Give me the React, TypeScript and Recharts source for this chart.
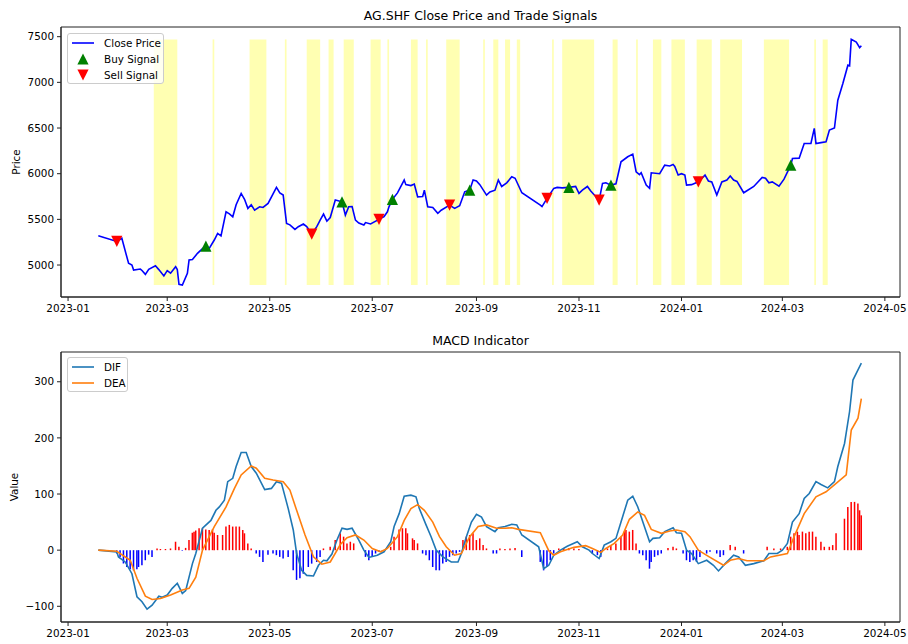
import React from 'react'
import { ComposedChart, Line, Scatter, Bar, Cell, XAxis, YAxis, ReferenceArea } from 'recharts'

const FONT = '"DejaVu Sans", sans-serif'
const AXIS = '#222'

// x tick labels (month starts)
const monthLabels = ['2023-01', '2023-03', '2023-05', '2023-07', '2023-09', '2023-11', '2024-01', '2024-03', '2024-05']

const priceDates = [
  '2023-01-19','2023-01-30','2023-02-02','2023-02-06','2023-02-08','2023-02-09','2023-02-13','2023-02-14','2023-02-16','2023-02-18',
  '2023-02-22','2023-02-24','2023-02-27','2023-03-01','2023-03-03','2023-03-06','2023-03-07','2023-03-08','2023-03-10','2023-03-13',
  '2023-03-14','2023-03-16','2023-03-19','2023-03-22','2023-03-24','2023-03-26','2023-03-29','2023-03-31','2023-04-02','2023-04-05',
  '2023-04-07','2023-04-09','2023-04-11','2023-04-14','2023-04-16','2023-04-18','2023-04-20','2023-04-22','2023-04-25','2023-04-27',
  '2023-04-30','2023-05-05','2023-05-07','2023-05-09','2023-05-11','2023-05-13','2023-05-16','2023-05-18','2023-05-21','2023-05-23',
  '2023-05-26','2023-05-29','2023-05-31','2023-06-02','2023-06-04','2023-06-06','2023-06-09','2023-06-13','2023-06-15','2023-06-17',
  '2023-06-19','2023-06-21','2023-06-23','2023-06-26','2023-06-27','2023-06-30','2023-07-05','2023-07-08','2023-07-10','2023-07-11',
  '2023-07-13','2023-07-16','2023-07-20','2023-07-21','2023-07-24','2023-07-26','2023-07-28','2023-07-31','2023-08-01','2023-08-03',
  '2023-08-06','2023-08-09','2023-08-11','2023-08-16','2023-08-19','2023-08-22','2023-08-25','2023-08-28','2023-08-30','2023-09-01',
  '2023-09-03','2023-09-07','2023-09-09','2023-09-12','2023-09-14','2023-09-16','2023-09-19','2023-09-22','2023-09-24','2023-09-28',
  '2023-10-09','2023-10-10','2023-10-13','2023-10-17','2023-10-19','2023-10-22','2023-10-26','2023-10-30','2023-11-01','2023-11-03',
  '2023-11-06','2023-11-08','2023-11-10','2023-11-13','2023-11-15','2023-11-17','2023-11-20','2023-11-23','2023-11-26','2023-11-30',
  '2023-12-03','2023-12-05','2023-12-07','2023-12-08','2023-12-11','2023-12-13','2023-12-14','2023-12-19','2023-12-22','2023-12-25',
  '2023-12-27','2023-12-28','2023-12-30','2024-01-01','2024-01-03','2024-01-04','2024-01-07','2024-01-11','2024-01-15','2024-01-17',
  '2024-01-19','2024-01-22','2024-01-25','2024-01-28','2024-01-30','2024-02-01','2024-02-03','2024-02-07','2024-02-13','2024-02-18',
  '2024-02-20','2024-02-22','2024-02-24','2024-02-28','2024-03-02','2024-03-06','2024-03-07','2024-03-11','2024-03-14','2024-03-18',
  '2024-03-20','2024-03-21','2024-03-24','2024-03-27','2024-03-29','2024-04-01','2024-04-03','2024-04-06','2024-04-09','2024-04-10',
  '2024-04-11','2024-04-14','2024-04-16','2024-04-17',
]
const closePrices = [
  5320, 5258, 5292, 5019, 5000, 4945, 4956, 4940, 4898, 4953,
  4992, 4950, 4880, 4938, 4910, 4982, 4950, 4789, 4781, 4909,
  5055, 5060, 5128, 5180, 5208, 5183, 5274, 5347, 5320, 5583,
  5560, 5528, 5660, 5784, 5720, 5620, 5660, 5600, 5638, 5630,
  5675, 5850, 5790, 5766, 5456, 5440, 5390, 5420, 5449, 5420,
  5339, 5420, 5492, 5558, 5480, 5520, 5711, 5692, 5547, 5638,
  5640, 5492, 5460, 5438, 5465, 5450, 5500, 5530, 5583, 5640,
  5719, 5790, 5930, 5880, 5870, 5886, 5747, 5750, 5820, 5638,
  5630, 5566, 5600, 5656, 5620, 5650, 5802, 5820, 5930, 5920,
  5880, 5766, 5800, 5820, 5930, 5860, 5900, 5966, 5950, 5791,
  5656, 5640, 5730, 5839, 5850, 5845, 5850, 5860, 5784, 5820,
  5860, 5810, 5770, 5711, 5894, 5900, 5875, 5890, 6130, 6185,
  6214, 6021, 5990, 6010, 5875, 5839, 6010, 6000, 6094, 6085,
  6100, 6080, 5985, 6000, 5985, 5875, 5880, 5911, 5985, 5920,
  5910, 5766, 5910, 5930, 5974, 5930, 5915, 5791, 5860, 5959,
  5950, 5900, 5910, 5864, 5940, 6094, 6167, 6170, 6331, 6331,
  6496, 6331, 6340, 6349, 6477, 6500, 6805, 6988, 7188, 7180,
  7470, 7440, 7380, 7400,
]

const buyDates = ['2023-03-24', '2023-06-13', '2023-07-13', '2023-08-28', '2023-10-26', '2023-11-20', '2024-03-06']
const buyPrices = [5208, 5692, 5719, 5820, 5850, 5875, 6094]
const sellDates = ['2023-01-30', '2023-05-26', '2023-07-05', '2023-08-16', '2023-10-13', '2023-11-13', '2024-01-11']
const sellPrices = [5258, 5339, 5500, 5656, 5730, 5711, 5911]

// shaded signal periods
const spanStarts = [
  '2023-02-21','2023-03-28','2023-04-19','2023-05-10','2023-05-23','2023-06-05','2023-06-14','2023-06-30','2023-07-10',
  '2023-07-24','2023-08-02','2023-08-14','2023-09-05','2023-09-11','2023-09-18','2023-09-25','2023-10-16','2023-10-22',
  '2023-11-21','2023-12-05','2023-12-15','2023-12-26','2024-01-10','2024-01-24','2024-02-19','2024-03-20','2024-03-25',
]
const spanEnds = [
  '2023-03-07','2023-03-29','2023-04-29','2023-05-11','2023-05-31','2023-06-08','2023-06-20','2023-07-06','2023-07-11',
  '2023-07-28','2023-08-03','2023-08-22','2023-09-06','2023-09-14','2023-09-21','2023-09-27','2023-10-17','2023-11-10',
  '2023-11-24','2023-12-06','2023-12-20','2024-01-03','2024-01-19','2024-02-06','2024-03-05','2024-03-21','2024-03-28',
]

const difDates = [
  '2023-01-19','2023-01-30','2023-01-31','2023-02-04','2023-02-08','2023-02-11','2023-02-14','2023-02-17','2023-02-20','2023-02-24',
  '2023-02-26','2023-03-01','2023-03-04','2023-03-07','2023-03-10','2023-03-12','2023-03-16','2023-03-18','2023-03-22','2023-03-27',
  '2023-03-30','2023-04-01','2023-04-04','2023-04-06','2023-04-09','2023-04-11','2023-04-14','2023-04-17','2023-04-20','2023-04-23',
  '2023-04-28','2023-05-02','2023-05-05','2023-05-08','2023-05-12','2023-05-15','2023-05-17','2023-05-20','2023-05-23','2023-05-27',
  '2023-05-30','2023-06-02','2023-06-04','2023-06-07','2023-06-10','2023-06-13','2023-06-16','2023-06-19','2023-06-23','2023-06-26',
  '2023-06-29','2023-07-04','2023-07-08','2023-07-12','2023-07-14','2023-07-17','2023-07-20','2023-07-24','2023-07-27','2023-07-29',
  '2023-08-02','2023-08-05','2023-08-08','2023-08-12','2023-08-17','2023-08-21','2023-08-23','2023-08-26','2023-08-29','2023-09-01',
  '2023-09-04','2023-09-07','2023-09-12','2023-09-14','2023-09-18','2023-09-22','2023-09-25','2023-09-28','2023-10-08','2023-10-11',
  '2023-10-14','2023-10-17','2023-10-21','2023-10-25','2023-10-31','2023-11-03','2023-11-07','2023-11-09','2023-11-13','2023-11-16',
  '2023-11-20','2023-11-23','2023-11-26','2023-11-30','2023-12-03','2023-12-06','2023-12-09','2023-12-13','2023-12-15','2023-12-19',
  '2023-12-22','2023-12-27','2023-12-29','2024-01-01','2024-01-04','2024-01-07','2024-01-11','2024-01-16','2024-01-20','2024-01-23',
  '2024-01-27','2024-02-01','2024-02-04','2024-02-08','2024-02-13','2024-02-19','2024-02-22','2024-02-27','2024-03-01','2024-03-04',
  '2024-03-07','2024-03-11','2024-03-14','2024-03-17','2024-03-21','2024-03-24','2024-03-28','2024-04-01','2024-04-03','2024-04-07',
  '2024-04-10','2024-04-12','2024-04-15','2024-04-17',
]
const difValues = [
  0, -3, -12, -21, -42, -83, -92, -105, -98, -82,
  -84, -80, -68, -59, -77, -72, -24, -6, 39, 53,
  71, 77, 89, 122, 128, 149, 174, 174, 149, 137,
  108, 110, 122, 119, 74, 36, -6, -36, -45, -46,
  -27, -18, -19, -7, 18, 39, 37, 39, 18, 0,
  -13, -9, -3, 15, 42, 65, 96, 98, 95, 74,
  45, 24, 0, -12, -21, -21, -6, 24, 50, 64,
  59, 42, 33, 40, 42, 46, 45, 27, 6, -33,
  -27, -9, 0, 7, 15, 6, 0, -6, -15, 9,
  15, 21, 50, 89, 96, 77, 50, 15, 21, 22,
  33, 40, 31, 30, 0, -6, -24, -18, -27, -37,
  -24, -9, -12, -27, -24, -19, -6, -6, 0, 12,
  50, 65, 92, 101, 122, 117, 111, 122, 149, 190,
  247, 303, 321, 333,
]

const deaDates = [
  '2023-01-19','2023-01-30','2023-02-07','2023-02-11','2023-02-16','2023-02-20','2023-02-25','2023-03-03','2023-03-10','2023-03-14',
  '2023-03-18','2023-03-22','2023-03-29','2023-04-05','2023-04-10','2023-04-14','2023-04-20','2023-04-23','2023-04-28','2023-05-03',
  '2023-05-09','2023-05-13','2023-05-17','2023-05-22','2023-05-27','2023-06-01','2023-06-06','2023-06-12','2023-06-16','2023-06-21',
  '2023-06-26','2023-07-01','2023-07-06','2023-07-10','2023-07-16','2023-07-20','2023-07-24','2023-07-28','2023-08-01','2023-08-06',
  '2023-08-10','2023-08-14','2023-08-19','2023-08-23','2023-08-28','2023-09-02','2023-09-07','2023-09-13','2023-09-18','2023-09-22',
  '2023-09-26','2023-10-09','2023-10-14','2023-10-17','2023-10-21','2023-10-29','2023-11-05','2023-11-09','2023-11-14','2023-11-17',
  '2023-11-22','2023-11-27','2023-12-01','2023-12-06','2023-12-10','2023-12-14','2023-12-20','2023-12-25','2023-12-29','2024-01-03',
  '2024-01-06','2024-01-11','2024-01-17','2024-01-26','2024-01-30','2024-02-04','2024-02-09','2024-02-19','2024-02-23','2024-03-04',
  '2024-03-08','2024-03-14','2024-03-21','2024-03-27','2024-04-02','2024-04-08','2024-04-11','2024-04-15','2024-04-17',
]
const deaValues = [
  0, -2, -18, -50, -82, -88, -86, -80, -71, -68,
  -48, 0, 42, 77, 110, 134, 150, 146, 128, 125,
  122, 107, 71, 27, -12, -25, -21, 10, 22, 27,
  18, 3, -3, 3, 24, 53, 74, 81, 71, 50,
  24, 6, -9, -6, 24, 42, 45, 39, 39, 40,
  37, 31, -1, -9, -3, 5, 8, 3, -4, 3,
  12, 27, 55, 68, 62, 37, 30, 34, 36, 33,
  24, 0, -11, -27, -18, -15, -19, -19, -12, -6,
  24, 65, 95, 104, 119, 134, 214, 235, 270,
]

const histDates = [
  '2023-01-30','2023-02-01','2023-02-03','2023-02-05','2023-02-07','2023-02-09','2023-02-11','2023-02-12','2023-02-14','2023-02-16',
  '2023-02-18','2023-02-20','2023-02-23','2023-02-25','2023-02-28','2023-03-03','2023-03-06','2023-03-08','2023-03-10','2023-03-12',
  '2023-03-14','2023-03-16','2023-03-17','2023-03-18','2023-03-20','2023-03-22','2023-03-24','2023-03-26','2023-03-28','2023-03-29',
  '2023-03-31','2023-04-03','2023-04-05','2023-04-07','2023-04-09','2023-04-11','2023-04-13','2023-04-15','2023-04-16','2023-04-18',
  '2023-04-20','2023-04-23','2023-04-25','2023-04-27','2023-04-30','2023-05-03','2023-05-05','2023-05-07','2023-05-09','2023-05-12',
  '2023-05-15','2023-05-17','2023-05-19','2023-05-21','2023-05-24','2023-05-26','2023-05-29','2023-05-31','2023-06-02','2023-06-06',
  '2023-06-09','2023-06-12','2023-06-14','2023-06-16','2023-06-18','2023-06-20','2023-06-27','2023-06-29','2023-07-01','2023-07-03',
  '2023-07-05','2023-07-07','2023-07-12','2023-07-14','2023-07-17','2023-07-19','2023-07-21','2023-07-22','2023-07-25','2023-07-26',
  '2023-07-28','2023-07-31','2023-08-02','2023-08-04','2023-08-06','2023-08-08','2023-08-10','2023-08-12','2023-08-14','2023-08-16',
  '2023-08-18','2023-08-20','2023-08-22','2023-08-24','2023-08-26','2023-08-28','2023-08-30','2023-09-01','2023-09-03','2023-09-05',
  '2023-09-07','2023-09-11','2023-09-13','2023-09-15','2023-09-18','2023-09-21','2023-09-24','2023-09-28','2023-10-09','2023-10-11',
  '2023-10-13','2023-10-15','2023-10-17','2023-10-20','2023-10-23','2023-10-26','2023-10-29','2023-11-01','2023-11-09','2023-11-12',
  '2023-11-14','2023-11-18','2023-11-20','2023-11-23','2023-11-26','2023-11-28','2023-11-29','2023-12-01','2023-12-03','2023-12-05',
  '2023-12-07','2023-12-09','2023-12-11','2023-12-13','2023-12-14','2023-12-16','2023-12-18','2023-12-20','2023-12-24','2023-12-27',
  '2023-12-29','2024-01-02','2024-01-04','2024-01-06','2024-01-08','2024-01-10','2024-01-12','2024-01-16','2024-01-18','2024-01-22',
  '2024-01-24','2024-01-26','2024-01-30','2024-02-02','2024-02-07','2024-02-21','2024-02-25','2024-02-29','2024-03-04','2024-03-06',
  '2024-03-08','2024-03-10','2024-03-11','2024-03-13','2024-03-15','2024-03-17','2024-03-19','2024-03-21','2024-03-24','2024-03-26',
  '2024-03-29','2024-03-31','2024-04-02','2024-04-07','2024-04-09','2024-04-11','2024-04-13','2024-04-15','2024-04-16','2024-04-17',
]
const histValues = [
  -6, -12, -24, -30, -34, -36, -34, -30, -27, -18,
  -8, -12, 3, 2, 2, 3, 15, 6, -1, 4,
  18, 31, 33, 35, 39, 39, 37, 36, 37, 31,
  27, 27, 42, 45, 42, 42, 42, 36, 30, 12,
  3, -6, -12, -21, -8, -6, -9, -12, -15, -12,
  -36, -53, -50, -42, -30, -24, -21, -12, 3, 6,
  18, 30, 24, 12, 15, 12, -12, -18, -12, -6,
  -3, -1, 6, 24, 37, 39, 39, 30, 21, 18,
  12, -6, -9, -18, -30, -36, -36, -24, -21, -12,
  -9, -6, -3, 18, 24, 27, 30, 18, 21, 9,
  3, -6, -6, 3, 2, 3, 4, -12, -21, -36,
  -30, -18, -6, 3, 3, 4, 3, 2, -6, -9,
  -12, 3, 9, 12, 24, 33, 36, 33, 36, 12,
  -6, -9, -18, -33, -21, -12, -9, -6, 4, 6,
  3, -6, -18, -21, -18, -21, -12, -6, -3, -6,
  -12, -9, 9, 6, -6, 6, 3, 3, 6, 24,
  30, 33, 27, 33, 30, 33, 33, 24, 15, 6,
  6, 9, 30, 56, 77, 86, 86, 83, 71, 62,
]

const day0 = Date.UTC(2023, 0, 1)
const toDay = (s: string) => {
  const [y, m, d] = s.split('-').map(Number)
  return (Date.UTC(y, m - 1, d) - day0) / 86400000
}
const monthTicks = monthLabels.map((l) => toDay(l + '-01'))
const fmtMonth = (v: number) => monthLabels[monthTicks.indexOf(v)] ?? ''
const fmtValue = (v: number) => (v < 0 ? '\u2212' + Math.abs(v) : String(v))

const xDomain: [number, number] = [-4.2, 495]
const priceDomain: [number, number] = [4650, 7606]
const macdDomain: [number, number] = [-128, 353]

const priceRows = priceDates.map((d, i) => ({ t: toDay(d), price: closePrices[i] }))
const buyRows = buyDates.map((d, i) => ({ t: toDay(d), price: buyPrices[i] }))
const sellRows = sellDates.map((d, i) => ({ t: toDay(d), price: sellPrices[i] }))
const priceMin = Math.min(...closePrices)
const priceMax = Math.max(...closePrices)

const macdMap = new Map<number, any>()
const put = (dates: string[], vals: number[], key: string) =>
  dates.forEach((d, i) => {
    const t = toDay(d)
    const row = macdMap.get(t) ?? { t }
    row[key] = vals[i]
    macdMap.set(t, row)
  })
put(difDates, difValues, 'dif')
put(deaDates, deaValues, 'dea')
put(histDates, histValues, 'hist')
const macdRows = [...macdMap.values()].sort((a, b) => a.t - b.t)

const tickStyle = { fill: '#000', fontSize: 10.4, fontFamily: FONT }

function UpTriangle(p: any) {
  const s = 5.6
  return <polygon points={`${p.cx},${p.cy - s} ${p.cx - s},${p.cy + s} ${p.cx + s},${p.cy + s}`} fill="#008000" />
}

function DownTriangle(p: any) {
  const s = 5.6
  return <polygon points={`${p.cx},${p.cy + s} ${p.cx - s},${p.cy - s} ${p.cx + s},${p.cy - s}`} fill="#ff0000" />
}

function LegendBox({ left, top, width, items }: { left: number; top: number; width: number; items: { label: string; icon: React.ReactNode }[] }) {
  return (
    <div
      style={{
        position: 'absolute', left, top, width, height: items.length * 16 + 3,
        border: '1px solid #cccccc', borderRadius: 3, background: 'rgba(255,255,255,0.8)', boxSizing: 'border-box',
      }}
    >
      {items.map((it, i) => (
        <div key={it.label} style={{ position: 'absolute', left: 3, top: 1 + i * 16, height: 16, display: 'flex', alignItems: 'center' }}>
          <svg width={24} height={16}>{it.icon}</svg>
          <span style={{ marginLeft: 9, fontSize: 10.4, fontFamily: FONT, color: '#000', whiteSpace: 'nowrap' }}>{it.label}</span>
        </div>
      ))}
    </div>
  )
}

const titleStyle: React.CSSProperties = {
  position: 'absolute', left: 61, width: 839, textAlign: 'center', fontSize: 12.5, fontFamily: FONT, color: '#000',
}
const yLabelStyle: React.CSSProperties = {
  position: 'absolute', fontSize: 10.4, fontFamily: FONT, color: '#000', transform: 'translate(-50%, -50%) rotate(-90deg)', whiteSpace: 'nowrap',
}

export default function App() {
  return (
    <div style={{ position: 'absolute', left: 0, top: 0, width: 908, height: 644, background: '#fff', fontFamily: FONT }}>
      <div style={{ ...titleStyle, top: 8 }}>AG.SHF Close Price and Trade Signals</div>
      <div style={{ ...yLabelStyle, left: 16, top: 162 }}>Price</div>
      <div style={{ position: 'absolute', left: 0, top: 0 }}>
        <ComposedChart width={908} height={320} data={priceRows} margin={{ top: 27, right: 8, bottom: 0, left: 0 }}>
          <XAxis
            type="number" dataKey="t" domain={xDomain} allowDataOverflow ticks={monthTicks} tickFormatter={fmtMonth}
            height={23} tickSize={4} tickMargin={4} tick={tickStyle} stroke={AXIS} interval={0}
          />
          <YAxis
            type="number" domain={priceDomain} allowDataOverflow ticks={[5000, 5500, 6000, 6500, 7000, 7500]}
            width={61} tickSize={4} tickMargin={3} tick={tickStyle} stroke={AXIS} interval={0}
          />
          {spanStarts.map((s, i) => (
            <ReferenceArea key={s} x1={toDay(s)} x2={toDay(spanEnds[i])} y1={priceMin} y2={priceMax} fill="#ffff00" fillOpacity={0.3} stroke="none" />
          ))}
          {/* plot frame (top/right spines) */}
          <ReferenceArea x1={xDomain[0]} x2={xDomain[1]} y1={priceDomain[0]} y2={priceDomain[1]} fill="none" fillOpacity={0} stroke={AXIS} strokeWidth={1} ifOverflow="visible" />
          <Line type="linear" dataKey="price" stroke="#0000ff" strokeWidth={1.6} dot={false} isAnimationActive={false} />
          <Scatter data={buyRows} dataKey="price" shape={UpTriangle} isAnimationActive={false} />
          <Scatter data={sellRows} dataKey="price" shape={DownTriangle} isAnimationActive={false} />
        </ComposedChart>
      </div>
      <LegendBox
        left={67} top={33} width={97}
        items={[
          { label: 'Close Price', icon: <line x1={1} x2={23} y1={8} y2={8} stroke="#0000ff" strokeWidth={1.6} /> },
          { label: 'Buy Signal', icon: <UpTriangle cx={12} cy={8} /> },
          { label: 'Sell Signal', icon: <DownTriangle cx={12} cy={8} /> },
        ]}
      />

      <div style={{ ...titleStyle, top: 333 }}>MACD Indicator</div>
      <div style={{ ...yLabelStyle, left: 14, top: 487 }}>Value</div>
      <div style={{ position: 'absolute', left: 0, top: 320 }}>
        <ComposedChart width={908} height={324} data={macdRows} margin={{ top: 32, right: 8, bottom: 0, left: 0 }}>
          <XAxis
            type="number" dataKey="t" domain={xDomain} allowDataOverflow ticks={monthTicks} tickFormatter={fmtMonth}
            height={22} tickSize={4} tickMargin={4} tick={tickStyle} stroke={AXIS} interval={0}
          />
          <YAxis
            type="number" domain={macdDomain} allowDataOverflow ticks={[-100, 0, 100, 200, 300]} tickFormatter={fmtValue}
            width={61} tickSize={4} tickMargin={3} tick={tickStyle} stroke={AXIS} interval={0}
          />
          <ReferenceArea x1={xDomain[0]} x2={xDomain[1]} y1={macdDomain[0]} y2={macdDomain[1]} fill="none" fillOpacity={0} stroke={AXIS} strokeWidth={1} ifOverflow="visible" />
          <Bar dataKey="hist" barSize={2} isAnimationActive={false}>
            {macdRows.map((r) => (
              <Cell key={r.t} fill={r.hist >= 0 ? '#ff0000' : '#0000ff'} />
            ))}
          </Bar>
          <Line type="linear" dataKey="dif" stroke="#1f77b4" strokeWidth={1.6} dot={false} connectNulls isAnimationActive={false} />
          <Line type="linear" dataKey="dea" stroke="#ff7f0e" strokeWidth={1.6} dot={false} connectNulls isAnimationActive={false} />
        </ComposedChart>
      </div>
      <LegendBox
        left={67} top={357} width={61}
        items={[
          { label: 'DIF', icon: <line x1={1} x2={23} y1={8} y2={8} stroke="#1f77b4" strokeWidth={1.6} /> },
          { label: 'DEA', icon: <line x1={1} x2={23} y1={8} y2={8} stroke="#ff7f0e" strokeWidth={1.6} /> },
        ]}
      />
    </div>
  )
}
